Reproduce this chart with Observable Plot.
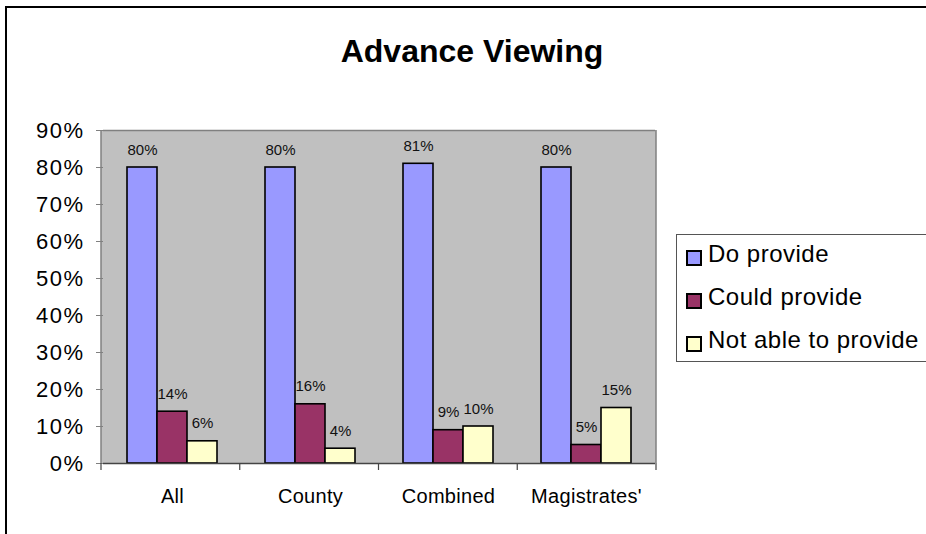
<!DOCTYPE html>
<html>
<head>
<meta charset="utf-8">
<script src="https://cdn.jsdelivr.net/npm/d3@7"></script>
<script src="https://cdn.jsdelivr.net/npm/@observablehq/plot@0.6"></script>
<style>
html,body{margin:0;padding:0;background:#fff;overflow:hidden;}
#wrap{position:relative;width:926px;height:534px;overflow:hidden;font-family:"Liberation Sans",Arial,sans-serif;color:#000;}
#border{position:absolute;left:5px;top:6px;width:1000px;height:1000px;border:2px solid #000;box-sizing:border-box;}
#title{position:absolute;left:0;width:944px;top:35px;text-align:center;font-weight:bold;font-size:32px;line-height:32px;}
#chart{position:absolute;left:0;top:0;}
#legend{position:absolute;left:676px;top:234px;width:300px;height:128px;border:1px solid #555;box-sizing:border-box;background:#fff;}
.item{position:absolute;left:9px;font-size:24px;letter-spacing:0.5px;line-height:43px;white-space:nowrap;}
.sw{display:inline-block;width:12px;height:12px;border:2px solid #000;margin-right:6px;vertical-align:-4px;}
</style>
</head>
<body>
<div id="wrap">
  <div id="border"></div>
  <div id="chart"></div>
  <div id="title">Advance Viewing</div>
  <div id="legend"></div>
</div>
<script>
const categories = ["All", "County", "Combined", "Magistrates'"];
const series = ["Do provide", "Could provide", "Not able to provide"];
const doProvide = [0.80, 0.80, 0.81, 0.80];
const couldProvide = [0.14, 0.16, 0.09, 0.05];
const notAble = [0.06, 0.04, 0.10, 0.15];
const yTicks = [0, 0.1, 0.2, 0.3, 0.4, 0.5, 0.6, 0.7, 0.8, 0.9];
const colors = ["#9999FF", "#993366", "#FFFFCC"];

const seriesValues = [doProvide, couldProvide, notAble];
const rows = [];
categories.forEach((c, i) => {
  seriesValues.forEach((arr, j) => rows.push({category: c, series: series[j], value: arr[i]}));
});
const fmt = d3.format(".0%");

const plot = Plot.plot({
  width: 926,
  height: 534,
  marginLeft: 101,
  marginRight: 270,
  marginTop: 130,
  marginBottom: 71,
  style: {fontFamily: '"Liberation Sans", Arial, sans-serif', background: "transparent", overflow: "visible", color: "#000"},
  fx: {domain: categories, padding: 0, label: null},
  x: {domain: series, paddingInner: 0, paddingOuter: 0.775, align: 0.5, axis: null},
  y: {domain: [0, 0.9], axis: null},
  color: {domain: series, range: colors},
  marks: [
    Plot.ruleY([0.9], {stroke: "#808080", strokeWidth: 1.5}),
    Plot.barY(rows, {fx: "category", x: "series", y: "value", fill: "series", stroke: "#000", strokeWidth: 1.6}),
    Plot.text(rows, {fx: "category", x: "series", y: "value", text: d => fmt(d.value), lineAnchor: "bottom", dy: -13, fontSize: 15, fill: "#111", ariaLabel: "data label"}),
    Plot.ruleY([0], {stroke: "#444", strokeWidth: 1.5}),
    Plot.axisY(yTicks, {tickFormat: fmt, tickSize: 7, tickPadding: 12, fontSize: 22, label: null, stroke: "#808080", fill: "#000"}),
    Plot.axisFx({anchor: "bottom", tickSize: 0, tickPadding: 25, fontSize: 20, label: null, fill: "#000"})
  ]
});
document.getElementById("chart").appendChild(plot);

const svgSel = d3.select(plot);
svgSel.selectAll('[aria-label="data label"] text').style("letter-spacing", "0.8px");
svgSel.selectAll('[aria-label="y-axis tick label"] text').style("letter-spacing", "1.5px");
svgSel.selectAll('[aria-label="fx-axis tick label"] text').style("letter-spacing", "0.3px");

// plot-area background, side borders and category boundary ticks, from the plot's own scales
const fxs = plot.scale("fx"), ys = plot.scale("y");
const fxScale = d3.scaleBand().domain(fxs.domain).range(fxs.range)
  .paddingInner(fxs.paddingInner ?? 0).paddingOuter(fxs.paddingOuter ?? 0).align(fxs.align ?? 0.5);
const yScale = d3.scaleLinear().domain(ys.domain).range(ys.range);
const bounds = fxs.domain.map(d => fxScale(d));
bounds.push(fxScale(fxs.domain[fxs.domain.length - 1]) + fxScale.bandwidth());
const left = bounds[0], right = bounds[bounds.length - 1];
svgSel.insert("rect", ":first-child")
  .attr("x", left).attr("y", yScale(0.9)).attr("width", right - left).attr("height", yScale(0) - yScale(0.9))
  .attr("fill", "#C0C0C0");
const g = svgSel.append("g");
g.append("line").attr("x1", left).attr("x2", left).attr("y1", yScale(0.9)).attr("y2", yScale(0))
  .attr("stroke", "#808080").attr("stroke-width", 1.5);
g.append("line").attr("x1", right).attr("x2", right).attr("y1", yScale(0.9)).attr("y2", yScale(0))
  .attr("stroke", "#808080").attr("stroke-width", 1.5);
g.selectAll("line.bt").data(bounds).join("line").attr("class", "bt")
  .attr("x1", d => d).attr("x2", d => d).attr("y1", yScale(0)).attr("y2", yScale(0) + 7)
  .attr("stroke", "#444").attr("stroke-width", 1.2);

// legend
const legend = d3.select("#legend");
series.forEach((s, i) => {
  const it = legend.append("div").attr("class", "item").style("top", (-3 + i * 43) + "px");
  it.append("span").attr("class", "sw").style("background", colors[i]);
  it.append("span").text(s);
});
</script>
</body>
</html>
